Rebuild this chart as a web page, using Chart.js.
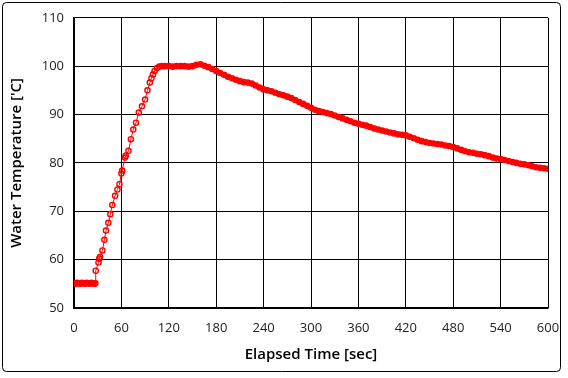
<!DOCTYPE html>
<html>
<head>
<meta charset="utf-8">
<script src="https://cdn.jsdelivr.net/npm/chart.js@4.4.1/dist/chart.umd.min.js"></script>
<style>
  html, body { margin: 0; padding: 0; background: #fff; }
  #wrap { width: 568px; height: 378px; position: relative; }
</style>
</head>
<body>
<div id="wrap"><canvas id="tempChart" width="568" height="378"></canvas></div>
<script>
  'use strict';

  // elapsed time [sec]
  const times = [
    0, 2, 4, 6, 8, 10, 12, 14, 16, 18, 20, 22, 24, 26, 27,
    27.5, 31, 32, 33, 36, 38.5, 40.5, 43.5, 46, 48.5, 52, 55, 57.5, 60, 61,
    64.5, 65.5, 69, 72, 75, 78.5, 82, 86, 90, 93, 96, 98, 100, 102, 105,
    108, 111, 115, 120, 125, 130, 135, 140, 145, 150, 155, 160, 165, 170,
    175, 180, 185, 190, 195, 200, 205, 210, 215, 220, 225, 230, 235, 240,
    245, 250, 255, 260, 265, 270, 275, 280, 285, 290, 295, 300, 305, 310,
    315, 320, 325, 330, 335, 340, 345, 350, 355, 360, 365, 370, 375, 380,
    385, 390, 395, 400, 405, 410, 415, 420, 425, 430, 435, 440, 445, 450,
    455, 460, 465, 470, 475, 480, 485, 490, 495, 500, 505, 510, 515, 520,
    525, 530, 535, 540, 545, 550, 555, 560, 565, 570, 575, 580, 585, 590,
    595, 600
  ];

  // water temperature ['C]
  const temps = [
    55.2, 55.0, 55.2, 55.1, 55.0, 55.2, 55.1, 55.0, 55.2, 55.1, 55.0, 55.2, 55.1, 55.0, 55.1,
    57.7, 59.4, 60.2, 60.6, 61.9, 64.1, 66.0, 67.6, 69.4, 71.3, 73.2, 74.5, 75.6, 77.8, 78.4,
    81.1, 81.5, 82.5, 84.9, 86.9, 88.3, 90.4, 91.7, 93.1, 95.0, 96.6, 97.5, 98.3, 99.0, 99.6,
    99.9, 100.0, 100.0, 100.0, 99.9, 100.0, 100.0, 100.0, 99.9, 100.0, 100.3, 100.4, 100.1, 99.8,
    99.4, 99.0, 98.6, 98.2, 97.8, 97.5, 97.2, 96.9, 96.7, 96.6, 96.4, 96.0, 95.6, 95.2,
    95.0, 94.8, 94.5, 94.2, 94.0, 93.7, 93.4, 93.0, 92.6, 92.2, 91.8, 91.4, 91.0, 90.7,
    90.5, 90.3, 90.1, 89.8, 89.5, 89.2, 88.9, 88.6, 88.3, 88.1, 87.9, 87.7, 87.4, 87.1,
    86.9, 86.7, 86.5, 86.3, 86.1, 85.9, 85.8, 85.7, 85.4, 85.1, 84.8, 84.5, 84.3, 84.1,
    84.0, 83.9, 83.8, 83.6, 83.5, 83.3, 83.0, 82.7, 82.4, 82.2, 82.1, 81.9, 81.8, 81.6,
    81.4, 81.1, 80.9, 80.8, 80.6, 80.4, 80.2, 80.0, 79.8, 79.7, 79.5, 79.3, 79.1, 79.0,
    78.9, 78.8
  ];

  const xTicks = [0, 60, 120, 180, 240, 300, 360, 420, 480, 540, 600];
  const yTicks = [50, 60, 70, 80, 90, 100, 110];

  const points = times.map(function (t, i) {
    return { x: t, y: temps[i] };
  });

  // rounded frame around the whole picture
  const framePlugin = {
    id: 'frame',
    afterDraw: function (chart) {
      const ctx = chart.ctx;
      ctx.save();
      ctx.strokeStyle = '#000';
      ctx.lineWidth = 1;
      ctx.beginPath();
      ctx.roundRect(2.5, 2.5, 558, 369, 4);
      ctx.stroke();
      ctx.restore();
    }
  };

  // dense sampling looks like a thick band where the temperature barely moves
  function segWidth(seg) {
    const x = seg.p0.parsed.x;
    return (x < 27 || x >= 106) ? 4.5 : 1;
  }

  const tickFont = { family: '"Open Sans", sans-serif', size: 13 };
  const titleFont = { family: '"Open Sans", sans-serif', size: 15, weight: '600' };

  new Chart(document.getElementById('tempChart'), {
    type: 'scatter',
    data: {
      datasets: [
        {
          data: points,
          showLine: true,
          borderColor: '#ff0000',
          borderWidth: 1.2,
          segment: { borderWidth: segWidth },
          pointRadius: 2.6,
          pointBorderWidth: 1.4,
          pointBorderColor: '#ff0000',
          pointBackgroundColor: 'rgba(255,255,255,0)',
          tension: 0,
        },
      ],
    },
    options: {
      responsive: false,
      animation: false,
      devicePixelRatio: 1,
      layout: { padding: { left: 0, top: 17, right: 20, bottom: 6 } },
      plugins: {
        legend: { display: false },
        tooltip: { enabled: false },
      },
      scales: {
        x: {
          type: 'linear',
          min: 0,
          max: 600,
          afterBuildTicks: function (scale) {
            scale.ticks = xTicks.map(function (v) { return { value: v }; });
          },
          afterFit: function (scale) {
            scale.height = 64;
            scale.paddingRight = 0;
            scale.paddingLeft = 0;
          },
          grid: { color: '#000', lineWidth: 1, drawTicks: false },
          border: { color: '#000', width: 1.5 },
          ticks: { color: '#222', font: tickFont, padding: 12, maxRotation: 0 },
          title: {
            display: true,
            text: 'Elapsed Time [sec]',
            color: '#000',
            font: titleFont,
            padding: { top: 0, bottom: 8 },
          },
        },
        y: {
          min: 50,
          max: 110,
          afterBuildTicks: function (scale) {
            scale.ticks = yTicks.map(function (v) { return { value: v }; });
          },
          afterFit: function (scale) { scale.width = 74; },
          grid: { color: '#000', lineWidth: 1, drawTicks: false },
          border: { color: '#000', width: 1.5 },
          ticks: { color: '#222', font: tickFont, padding: 10 },
          title: {
            display: true,
            text: "Water Temperature ['C]",
            color: '#000',
            font: titleFont,
            padding: { top: 8, bottom: 0 },
          },
        },
      },
    },
    plugins: [framePlugin],
  });
</script>
</body>
</html>
